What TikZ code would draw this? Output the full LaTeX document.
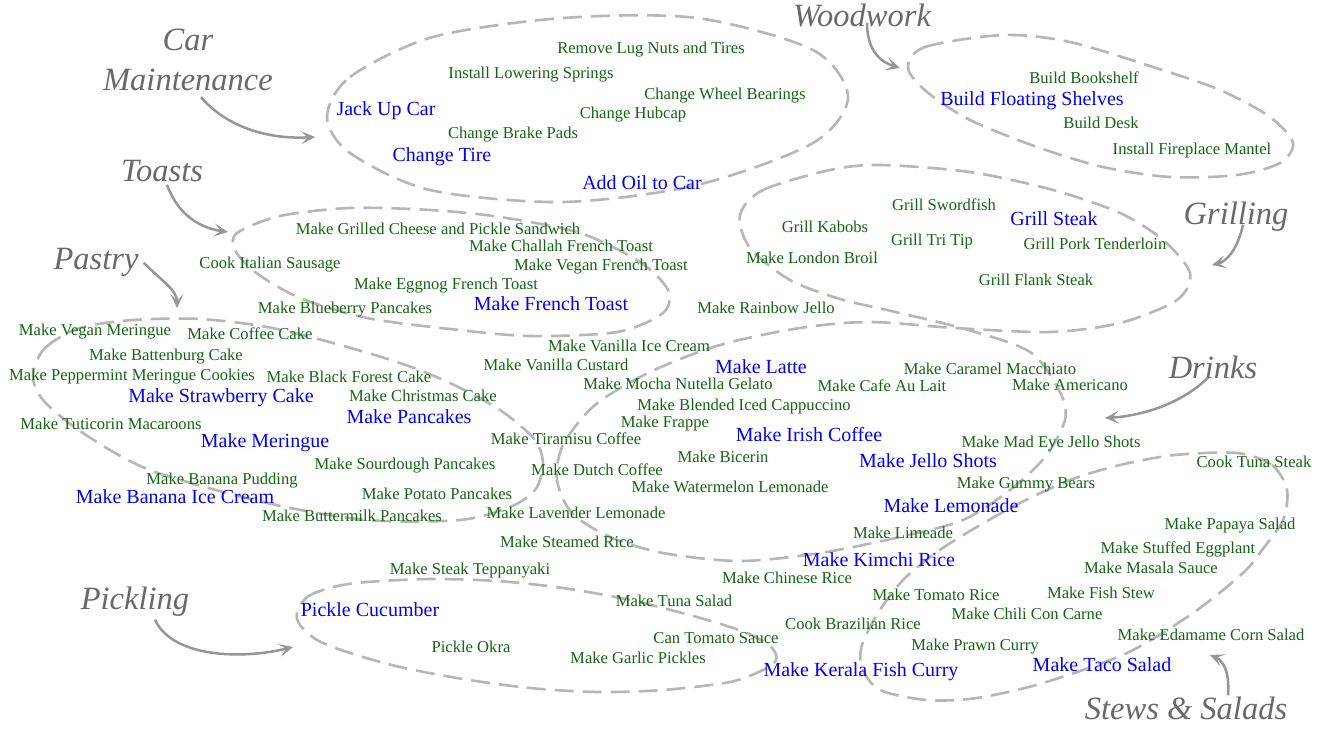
\documentclass[tikz,border=0pt]{standalone}
\usepackage{fontspec}
\setmainfont{Liberation Serif}
\usepackage{tikz}
\usetikzlibrary{arrows.meta}

\definecolor{itemgreen}{RGB}{20,100,20}
\definecolor{itemblue}{RGB}{0,0,255}
\definecolor{lblgray}{RGB}{105,105,105}
\definecolor{blobgray}{RGB}{182,182,182}
\definecolor{arrowgray}{RGB}{150,150,150}

\newcommand{\itemfont}{\fontsize{16.6pt}{20pt}\selectfont}
\newcommand{\keyfont}{\fontsize{20pt}{24pt}\selectfont}
\newcommand{\catfont}{\fontsize{32.5pt}{40pt}\selectfont\itshape}

\tikzset{
  blob/.style={draw=blobgray, line width=2.6pt, dash pattern=on 19pt off 9pt},
  catarrow/.style={draw=arrowgray, line width=2.5pt,
    -{Stealth[length=14pt,width=13pt,inset=7pt]}}
}

\begin{document}
\begin{tikzpicture}[x=1pt,y=-1pt]
  \useasboundingbox (0,0) rectangle (1325,730);

  % dashed groups
  \draw[blob] plot[smooth cycle] coordinates {(327,117) (350,77) (433,37) (563,18)
    (697,18) (813,50) (848,97) (813,143) (697,185) (563,202) (430,190) (350,153)};
  \draw[blob] plot[smooth cycle] coordinates {(908,68) (925,47) (1003,35) (1070,42)
    (1153,67) (1220,90) (1270,117) (1293,143) (1280,163) (1237,175) (1170,177)
    (1103,167) (1037,147) (970,120) (927,92)};
  \draw[blob] plot[smooth cycle] coordinates {(740,215) (763,190) (830,170) (880,165)
    (970,172) (1053,190) (1120,213) (1163,240) (1190,273) (1177,300) (1120,323)
    (1050,332) (955,328) (870,322) (800,328) (720,345) (650,372) (595,405) (563,445)
    (557,480) (572,513) (610,537) (663,553) (740,561) (820,553) (900,537) (963,520)
    (1010,490) (1045,457) (1065,420) (1060,392) (1030,352) (965,329) (887,310)
    (840,299) (790,280) (750,248)};
  \draw[blob] plot[smooth cycle] coordinates {(237,233) (280,216) (350,208) (430,210)
    (500,217) (580,233) (640,262) (668,290) (663,313) (617,332) (530,336) (450,329)
    (367,318) (300,298) (255,272) (235,250)};
  \draw[blob] plot[smooth cycle] coordinates {(33,375) (45,348) (80,328) (133,320)
    (200,319) (267,327) (333,343) (400,363) (450,383) (500,410) (535,440) (543,465)
    (535,490) (510,507) (460,520) (367,520) (267,503) (150,470) (83,433) (43,400)};
  \draw[blob] plot[smooth cycle] coordinates {(1237,453) (1272,465) (1287,490)
    (1283,520) (1262,550) (1243,573) (1193,613) (1127,653) (1043,683) (977,698)
    (927,700) (880,690) (862,668) (862,645) (878,613) (903,580) (937,552) (975,528)
    (1020,503) (1070,480) (1120,465) (1175,455)};
  \draw[blob] plot[smooth cycle] coordinates {(297,613) (307,597) (333,587) (367,582)
    (430,579) (497,581) (563,588) (630,600) (697,617) (747,633) (772,648) (776,660)
    (763,670) (730,682) (663,690) (597,692) (530,688) (463,679) (400,667) (350,653)
    (317,640) (300,625)};

  \begin{scope}[every node/.style={text=itemgreen, font=\itemfont, inner sep=0pt,
      text height=0.7em, text depth=0.2em, yshift=-4pt}]
    \node (lugnuts) at (651,47) {Remove Lug Nuts and Tires};
    \node (springs) at (531,72) {Install Lowering Springs};
    \node (bearings) at (725,93) {Change Wheel Bearings};
    \node (hubcap) at (633,112) {Change Hubcap};
    \node (brakepads) at (513,132) {Change Brake Pads};
    \node (bookshelf) at (1084,77) {Build Bookshelf};
    \node (desk) at (1101,122) {Build Desk};
    \node (mantel) at (1192,148) {Install Fireplace Mantel};
    \node (swordfish) at (944,204) {Grill Swordfish};
    \node (kabobs) at (825,226) {Grill Kabobs};
    \node (tritip) at (932,239) {Grill Tri Tip};
    \node (pork) at (1095,243) {Grill Pork Tenderloin};
    \node (londonbroil) at (812,257) {Make London Broil};
    \node (flank) at (1036,279) {Grill Flank Steak};
    \node (grilledcheese) at (438,228) {Make Grilled Cheese and Pickle Sandwich};
    \node (challah) at (561,245) {Make Challah French Toast};
    \node (sausage) at (270,262) {Cook Italian Sausage};
    \node (veganft) at (601,264) {Make Vegan French Toast};
    \node (eggnog) at (446,283) {Make Eggnog French Toast};
    \node (blueberry) at (345,307) {Make Blueberry Pancakes};
    \node (rainbow) at (766,307) {Make Rainbow Jello};
    \node (veganmer) at (95,329) {Make Vegan Meringue};
    \node (coffeecake) at (250,333) {Make Coffee Cake};
    \node (battenburg) at (166,354) {Make Battenburg Cake};
    \node (peppermint) at (132,374) {Make Peppermint Meringue Cookies};
    \node (blackforest) at (349,376) {Make Black Forest Cake};
    \node (christmas) at (423,395) {Make Christmas Cake};
    \node (tuticorin) at (111,423) {Make Tuticorin Macaroons};
    \node (sourdough) at (405,463) {Make Sourdough Pancakes};
    \node (bananapud) at (222,478) {Make Banana Pudding};
    \node (potato) at (437,493) {Make Potato Pancakes};
    \node (buttermilk) at (352,515) {Make Buttermilk Pancakes};
    \node (vanillaice) at (629,345) {Make Vanilla Ice Cream};
    \node (custard) at (556,364) {Make Vanilla Custard};
    \node (caramel) at (990,368) {Make Caramel Macchiato};
    \node (mocha) at (678,383) {Make Mocha Nutella Gelato};
    \node (aulait) at (882,385) {Make Cafe Au Lait};
    \node (americano) at (1070,384) {Make Americano};
    \node (cappuccino) at (744,404) {Make Blended Iced Cappuccino};
    \node (frappe) at (665,421) {Make Frappe};
    \node (tiramisu) at (566,438) {Make Tiramisu Coffee};
    \node (madeye) at (1051,441) {Make Mad Eye Jello Shots};
    \node (bicerin) at (723,456) {Make Bicerin};
    \node (dutch) at (597,469) {Make Dutch Coffee};
    \node (gummy) at (1026,482) {Make Gummy Bears};
    \node (watermelon) at (730,486) {Make Watermelon Lemonade};
    \node (lavender) at (576,512) {Make Lavender Lemonade};
    \node (limeade) at (903,532) {Make Limeade};
    \node (steamed) at (567,541) {Make Steamed Rice};
    \node (teppanyaki) at (470,568) {Make Steak Teppanyaki};
    \node (chinese) at (787,577) {Make Chinese Rice};
    \node (tunasalad) at (674,600) {Make Tuna Salad};
    \node (tomatorice) at (936,594) {Make Tomato Rice};
    \node (fishstew) at (1101,592) {Make Fish Stew};
    \node (chili) at (1027,613) {Make Chili Con Carne};
    \node (brazilian) at (853,623) {Cook Brazilian Rice};
    \node (tomatosauce) at (716,637) {Can Tomato Sauce};
    \node (prawn) at (975,644) {Make Prawn Curry};
    \node (garlic) at (638,657) {Make Garlic Pickles};
    \node (edamame) at (1211,634) {Make Edamame Corn Salad};
    \node (tunasteak) at (1254,461) {Cook Tuna Steak};
    \node (papaya) at (1230,523) {Make Papaya Salad};
    \node (eggplant) at (1178,547) {Make Stuffed Eggplant};
    \node (masala) at (1151,567) {Make Masala Sauce};
    \node (okra) at (471,646) {Pickle Okra};
  \end{scope}

  \begin{scope}[every node/.style={text=itemblue, font=\keyfont, inner sep=0pt,
      text height=0.7em, text depth=0.2em, yshift=-4pt}]
    \node (jackup) at (386,109) {Jack Up Car};
    \node (changetire) at (442,155) {Change Tire};
    \node (addoil) at (642,183) {Add Oil to Car};
    \node (floating) at (1032,99) {Build Floating Shelves};
    \node (steak) at (1054,219) {Grill Steak};
    \node (frenchtoast) at (551,304) {Make French Toast};
    \node (strawberry) at (221,396) {Make Strawberry Cake};
    \node (pancakes) at (409,417) {Make Pancakes};
    \node (meringue) at (265,441) {Make Meringue};
    \node (bananaice) at (175,497) {Make Banana Ice Cream};
    \node (latte) at (761,367) {Make Latte};
    \node (irish) at (809,435) {Make Irish Coffee};
    \node (jello) at (928,461) {Make Jello Shots};
    \node (lemonade) at (951,506) {Make Lemonade};
    \node (kimchi) at (879,560) {Make Kimchi Rice};
    \node (kerala) at (861,670) {Make Kerala Fish Curry};
    \node (taco) at (1102,665) {Make Taco Salad};
    \node (cucumber) at (370,610) {Pickle Cucumber};
  \end{scope}

  \begin{scope}[every node/.style={text=lblgray, font=\catfont, inner sep=0pt}]
    \node[align=center] (car) at (188,60) {Car\\Maintenance};
    \begin{scope}[every node/.append style={text height=0.7em, text depth=0.2em,
        yshift=-9pt}]
      \node (toasts) at (162,170) {Toasts};
      \node (pastry) at (96,258) {Pastry};
      \node (pickling) at (135,598) {Pickling};
      \node (woodwork) at (862,15) {Woodwork};
      \node (grilling) at (1236,213) {Grilling};
      \node (drinks) at (1213,367) {Drinks};
      \node (stews) at (1186,708) {Stews \& Salads};
    \end{scope}
  \end{scope}

  \coordinate (carTip) at (315,137);
  \coordinate (toastsTip) at (228,232);
  \coordinate (pastryTip) at (177,308);
  \coordinate (picklingTip) at (293,647);
  \coordinate (woodworkTip) at (900,68);
  \coordinate (grillingTip) at (1212,265);
  \coordinate (drinksTip) at (1105,418);
  \coordinate (stewsTip) at (1210,655);

  \draw[catarrow] ([shift={(13,6)}]car.south) .. controls (222,122) and (260,140) .. (carTip);
  \draw[catarrow] ([shift={(5,1)}]toasts.south) .. controls (178,215) and (200,228) .. (toastsTip);
  \draw[catarrow] ([xshift=5pt,yshift=9pt]pastry.south east) .. controls (163,282) and (177,290) .. (pastryTip);
  \draw[catarrow] ([shift={(20,8)}]pickling.south) .. controls (172,657) and (240,660) .. (picklingTip);
  \draw[catarrow] ([shift={(5,-6)}]woodwork.south) .. controls (867,50) and (880,62) .. (woodworkTip);
  \draw[catarrow] ([shift={(7,-2)}]grilling.south) .. controls (1237,252) and (1225,262) .. (grillingTip);
  \draw[catarrow] ([shift={(-5,-3)}]drinks.south) .. controls (1180,405) and (1140,416) .. (drinksTip);
  \draw[catarrow] ([shift={(42,-17)}]stews.north) .. controls (1230,670) and (1222,660) .. (stewsTip);
\end{tikzpicture}
\end{document}
